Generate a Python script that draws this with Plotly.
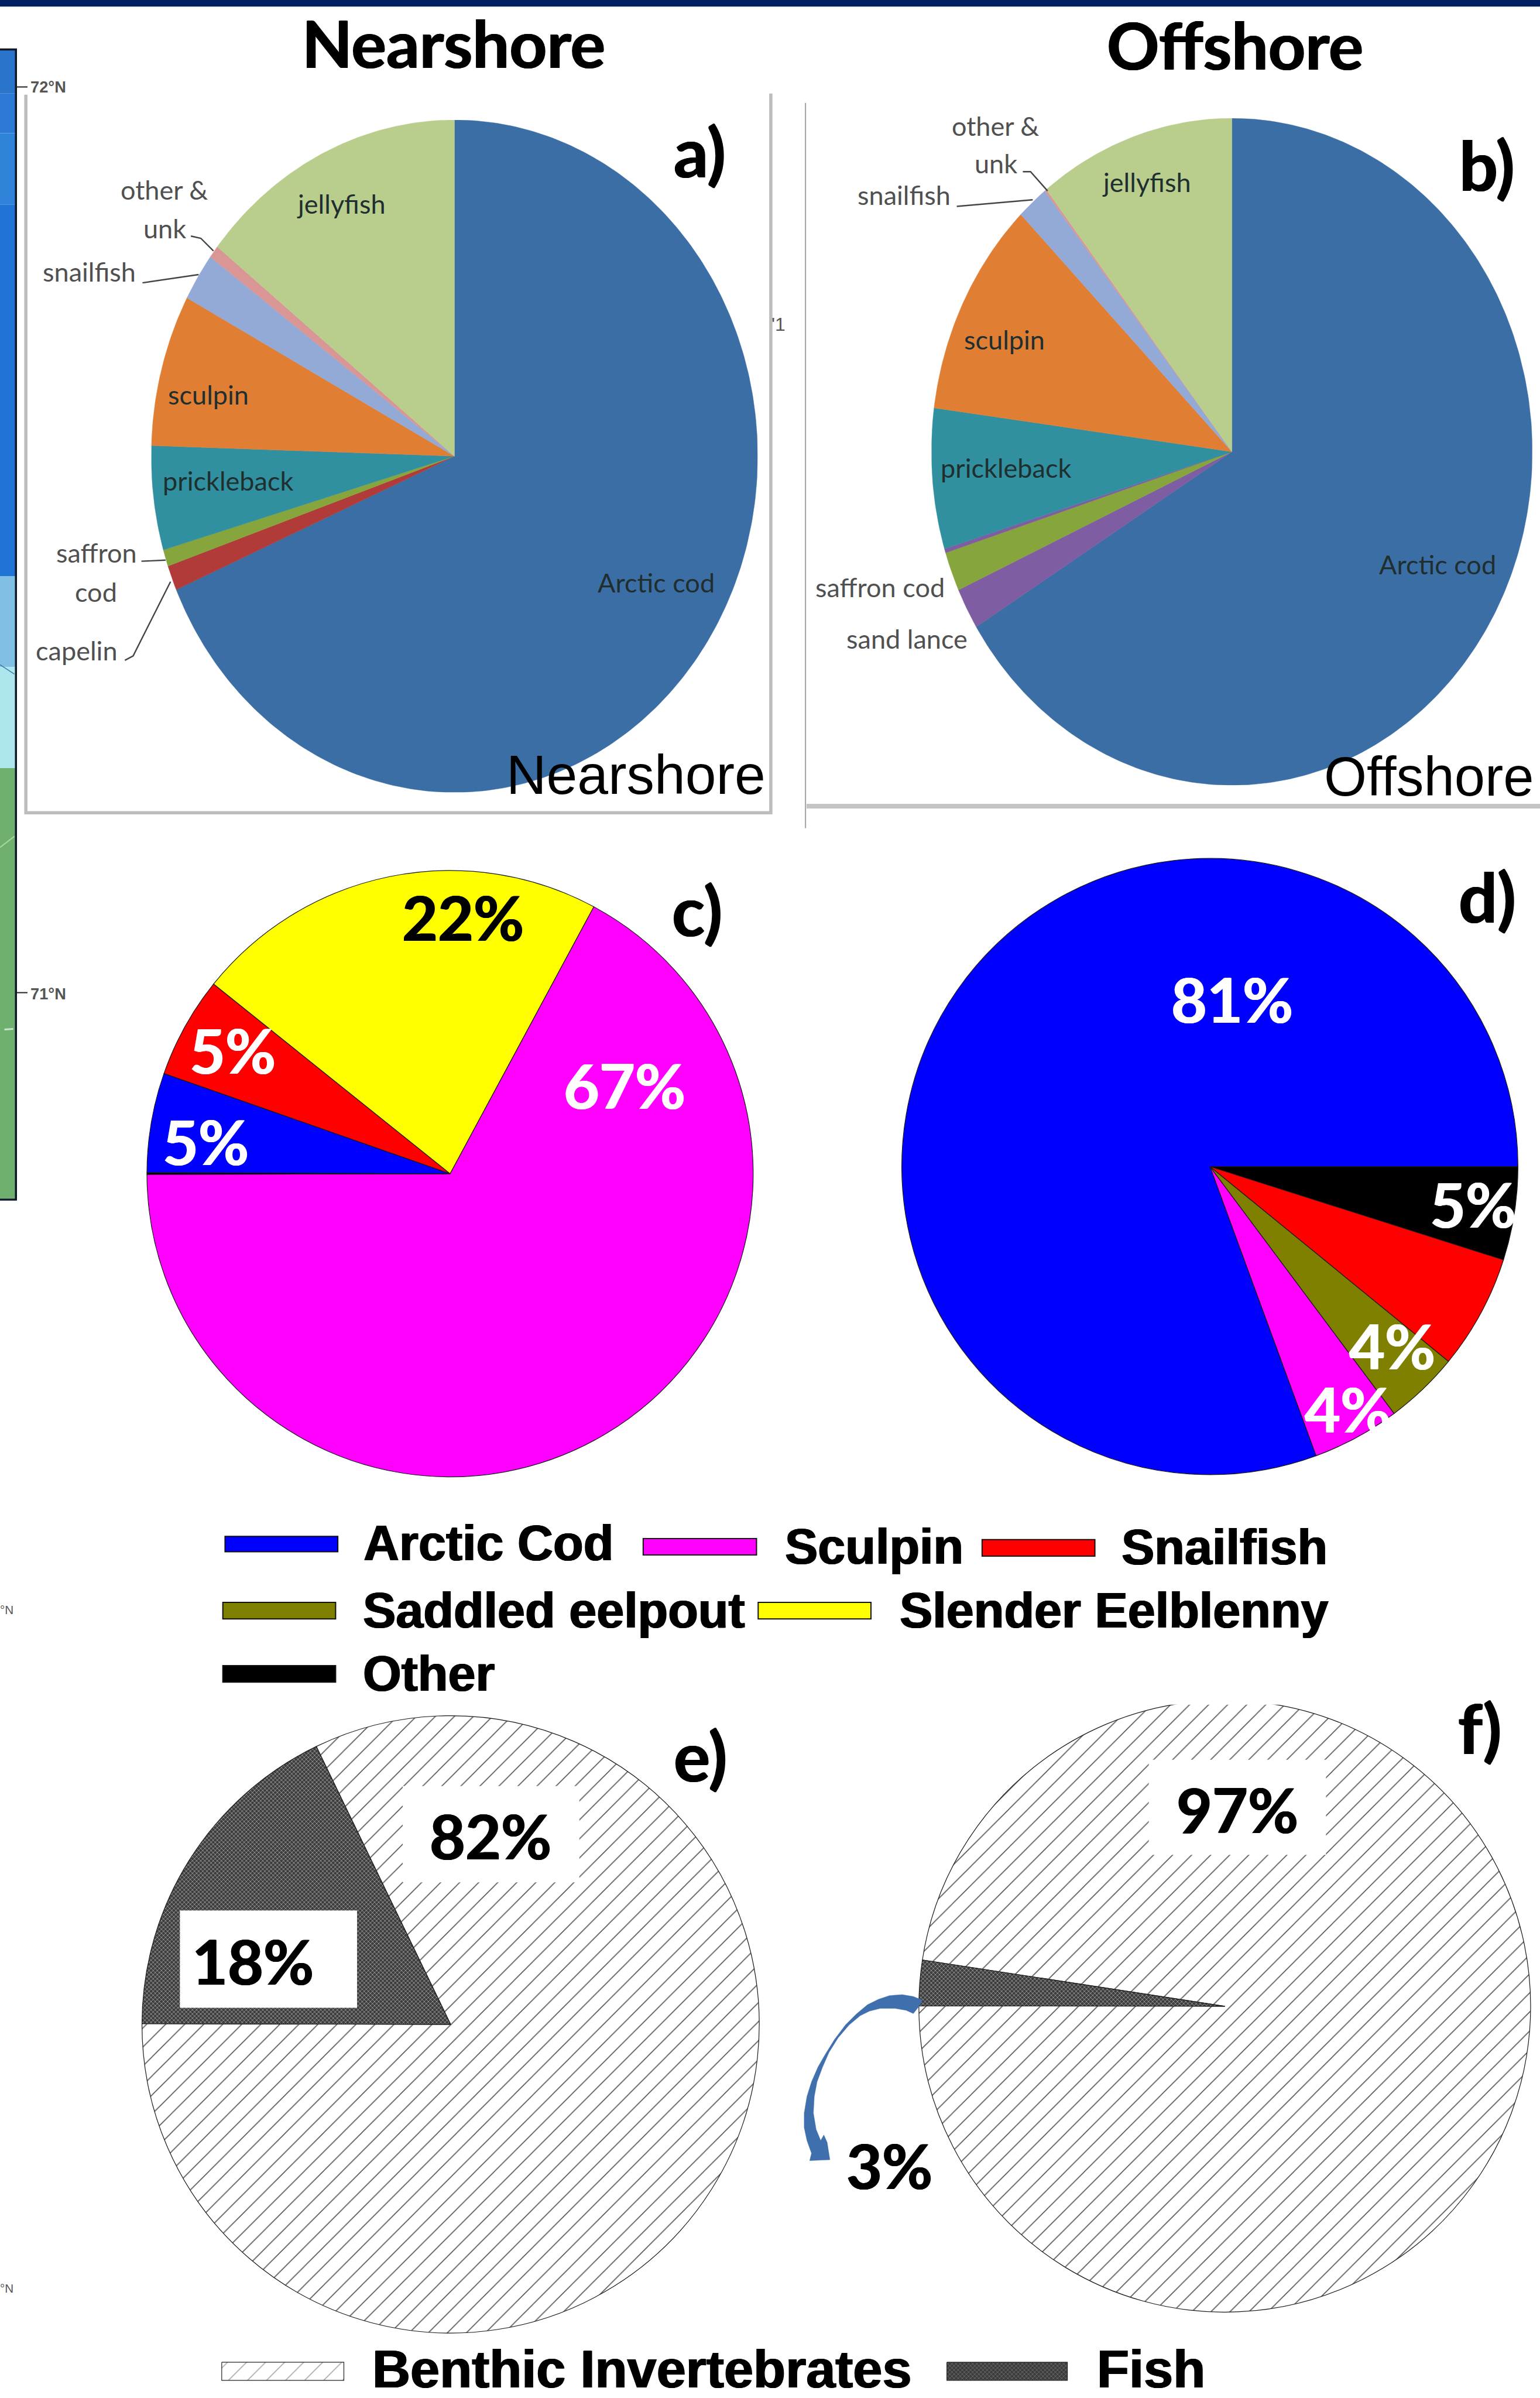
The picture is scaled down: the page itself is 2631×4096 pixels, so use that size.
import math
import plotly.graph_objects as go

W, H = 2799, 4358
K = 0.939

# ---------- data ----------
a_labels = ["Arctic cod", "capelin", "saffron cod", "prickleback", "sculpin", "snailfish", "other & unk", "jellyfish"]
a_values = [68.5, 1.2, 0.8, 5.0, 7.3, 2.3, 0.6, 14.3]
b_labels = ["Arctic cod", "sand lance", "saffron cod", "unknown", "prickleback", "sculpin", "snailfish", "other & unk", "jellyfish"]
b_values = [66.2, 2.0, 1.9, 0.2, 6.8, 10.5, 1.7, 0.1, 10.6]
c_labels = ["Sculpin", "Other", "Arctic Cod", "Snailfish", "Slender Eelblenny"]
c_values = [67.1, 0.1, 5.3, 5.4, 22.1]
d_labels = ["Other", "Snailfish", "Saddled eelpout", "Sculpin", "Arctic Cod"]
d_values = [4.9, 6.0, 3.9, 4.6, 80.6]
e_labels = ["Benthic Invertebrates", "Fish"]
e_values = [82.2, 17.8]
f_labels = ["Benthic Invertebrates", "Fish"]
f_values = [97.6, 2.4]

# ---------- style ----------
CAT = {"Arctic cod": "#3c6ea6", "capelin": "#b03b38", "saffron cod": "#86a53c", "unknown": "#7e5da2",
       "sand lance": "#7e5da2", "prickleback": "#31909f", "sculpin": "#e07f34", "snailfish": "#93a9d6",
       "other & unk": "#d99694", "jellyfish": "#b9cd8d"}
SP = {"Arctic Cod": "#0000ff", "Sculpin": "#ff00ff", "Snailfish": "#ff0000", "Saddled eelpout": "#7f7f00",
      "Slender Eelblenny": "#ffff00", "Other": "#000000"}
FISH_BG, FISH_FG = "#3c3c3c", "#a8a8a8"
HATCH_SIZE = 23


def px(x):
    return x / W


def py(y):
    return 1 - y / H


fig = go.Figure()
shapes = []
annotations = []


def rect(x0, y0, x1, y1, fill, line=None, lw=0):
    shapes.append(dict(type="rect", xref="paper", yref="paper", x0=px(x0), x1=px(x1), y0=py(y0), y1=py(y1),
                       fillcolor=fill, line=dict(color=line or fill, width=lw), layer="above"))


def seg(pts, color, w):
    path = "M" + " L".join(f"{px(x):.5f},{py(y):.5f}" for x, y in pts)
    shapes.append(dict(type="path", path=path, xref="paper", yref="paper", line=dict(color=color, width=w), layer="above"))


def text(s, x, y, size, color="#000", family="Lato", bold=False, anchor="center", heavy=0):
    font = dict(family=family, size=size * K, color=color)
    if heavy:
        font["shadow"] = f"{heavy}px 0 0 {color}, -{heavy}px 0 0 {color}"
    annotations.append(dict(text=f"<b>{s}</b>" if bold else s, x=px(x), y=py(y), xref="paper", yref="paper",
                            showarrow=False, xanchor=anchor, yanchor="middle", font=font))


def ellipse_pie(index, labels, values, cx, cy, rx, ry):
    ax = "" if index == 1 else str(index)
    fig.update_layout({
        f"xaxis{ax}": dict(domain=[px(cx - rx), px(cx + rx)], range=[-1, 1], visible=False, fixedrange=True,
                           anchor=f"y{ax}"),
        f"yaxis{ax}": dict(domain=[py(cy + ry), py(cy - ry)], range=[-1, 1], visible=False, fixedrange=True,
                           anchor=f"x{ax}"),
    })
    total = sum(values)
    start = 0.0
    for lab, v in zip(labels, values):
        n = max(3, int(v * 4))
        angs = [(start + v * i / n) / total * 2 * math.pi for i in range(n + 1)]
        xs = [0] + [math.sin(t) for t in angs] + [0]
        ys = [0] + [math.cos(t) for t in angs] + [0]
        fig.add_trace(go.Scatter(x=xs, y=ys, mode="lines", fill="toself", fillcolor=CAT[lab],
                                 line=dict(color=CAT[lab], width=0.5), name=lab, showlegend=False,
                                 xaxis=f"x{ax}", yaxis=f"y{ax}", hoverinfo="name"))
        start += v


def circle_pie(labels, values, cx, cy, r, rotation, colors, pattern=None):
    fig.add_trace(go.Pie(labels=labels, values=values, sort=False, direction="clockwise", rotation=rotation,
                         textinfo="none", showlegend=False,
                         domain=dict(x=[px(cx - r), px(cx + r)], y=[py(cy + r), py(cy - r)]),
                         marker=dict(colors=colors, line=dict(color="#1a1a1a", width=1.2), pattern=pattern)))


HATCH = dict(shape=["/", "x"], bgcolor=["#ffffff", FISH_BG], fgcolor=["#555555", FISH_FG],
             size=[HATCH_SIZE, 5], solidity=[0.07, 0.3], fillmode="replace")

ellipse_pie(1, a_labels, a_values, 826, 829, 551, 611)
ellipse_pie(2, b_labels, b_values, 2239, 821, 546, 606)
circle_pie(c_labels, c_values, 818, 2133, 551, 28.3, [SP[k] for k in c_labels])
circle_pie(d_labels, d_values, 2199, 2120, 560, 90, [SP[k] for k in d_labels])
circle_pie(e_labels, e_values, 819, 3679, 561, -25.8, ["#ffffff", FISH_BG], HATCH)
circle_pie(f_labels, f_values, 2226, 3646, 556, -81.3, ["#ffffff", FISH_BG], HATCH)

# ---------- page furniture ----------
rect(0, 0, W, 12, "#002060")
# map fragment on the left edge
for y0, y1, col in [(90, 170, "#2a74cc"), (170, 242, "#2c7ad6"), (242, 372, "#2f84da"), (372, 1047, "#2273d6"),
                    (1047, 1212, "#7fc0e4"), (1212, 1396, "#aee6ee"), (1396, 2178, "#6fb06f")]:
    rect(0, y0, 28, y1, col)
seg([(0, 1540), (26, 1520)], "#a8d8a8", 2)
seg([(8, 1871), (24, 1870)], "#c8e8c8", 3)
seg([(0, 1208), (26, 1225)], "#3f78a8", 1.5)
seg([(0, 90), (29, 90), (29, 2180), (0, 2180)], "#101828", 3.5)
seg([(30, 158), (50, 158)], "#222", 2)
seg([(30, 1804), (50, 1804)], "#222", 2)
text("72°N", 88, 158, 29, "#555", "Liberation Sans", True)
text("71°N", 88, 1806, 29, "#555", "Liberation Sans", True)
text("'1", 1415, 589, 34, "#555", "Liberation Sans")
text("°N", 12, 2925, 22, "#555", "Liberation Sans")
text("°N", 12, 4158, 22, "#555", "Liberation Sans")

# chart frames copied from the panels
seg([(47, 172), (47, 1477), (1401, 1477), (1401, 170)], "#bdbdbd", 5.5)
seg([(1464, 187), (1464, 1505)], "#a8a8a8", 2.2)
seg([(1466, 1465), (W, 1465)], "#c4c4c4", 8)

# leaders
GREY = "#454545"
for pts in [[(347, 429), (365, 433), (388, 456)], [(259, 514), (361, 499)], [(257, 1020), (301, 1018)],
            [(227, 1200), (242, 1192), (310, 1057)], [(1859, 312), (1873, 312), (1904, 347)],
            [(1739, 375), (1877, 363)]]:
    seg(pts, GREY, 2.4)

# white boxes behind the percent labels, clip at top of f)
rect(732, 3246, 1053, 3421, "#ffffff")
rect(327, 3472, 649, 3649, "#ffffff")
rect(2088, 3198, 2410, 3371, "#ffffff")
rect(1900, 3070, 2560, 3098, "#ffffff")

# curved arrow
ARROW = [(830, 405), (780, 385), (720, 375), (650, 380), (590, 400), (530, 430), (470, 480), (410, 540), (350, 620),
         (300, 700), (260, 770), (225, 850), (200, 930), (185, 1020), (185, 1100), (200, 1170), (225, 1240),
         (215, 1280), (325, 1275), (310, 1180), (292, 1140), (275, 1170), (250, 1110), (235, 1020), (240, 930),
         (255, 850), (285, 770), (320, 690), (370, 610), (430, 540), (490, 490), (540, 465), (600, 450), (680, 450),
         (740, 460), (780, 478), (810, 440)]
path = "M" + " L".join(f"{px(1400 + x / 3):.5f},{py(3500 + y / 3):.5f}" for x, y in ARROW) + " Z"
shapes.append(dict(type="path", path=path, xref="paper", yref="paper", fillcolor="#3f6fad",
                   line=dict(color="#3f6fad", width=0.5), layer="above"))

# ---------- legends ----------
SW = [("Arctic Cod", 409, 2792, 614, 2820, 659, 2804), ("Sculpin", 1169, 2796, 1375, 2826, 1424, 2810),
      ("Snailfish", 1785, 2798, 1990, 2828, 2036, 2812), ("Saddled eelpout", 405, 2912, 610, 2942, 657, 2926),
      ("Slender Eelblenny", 1378, 2912, 1583, 2942, 1633, 2926), ("Other", 405, 3027, 610, 3057, 657, 3041)]
for name, x0, y0, x1, y1, tx, ty in SW:
    rect(x0, y0, x1, y1, SP[name], "#111111", 2)
    text(name, tx, ty, 90, "#000", "Liberation Sans", True, "left", heavy=1)

# hatched legend swatches use the same fill patterns as the pies
fig.update_layout(xaxis3=dict(domain=[0, 1], range=[0, W], visible=False, fixedrange=True, anchor="y3"),
                  yaxis3=dict(domain=[0, 1], range=[H, 0], visible=False, fixedrange=True, anchor="x3"))
for (x0, x1), patt, lab in [((403, 625), dict(shape="/", bgcolor="#ffffff", fgcolor="#555555", size=HATCH_SIZE, solidity=0.07), "Benthic Invertebrates"),
                            ((1721, 1940), dict(shape="x", bgcolor=FISH_BG, fgcolor=FISH_FG, size=5, solidity=0.3), "Fish")]:
    fig.add_trace(go.Scatter(x=[x0, x1, x1, x0, x0], y=[4293, 4293, 4326, 4326, 4293], mode="lines", fill="toself",
                             fillcolor=patt["bgcolor"], fillpattern=patt, line=dict(color="#222", width=1.2),
                             xaxis="x3", yaxis="y3", showlegend=False, name=lab, hoverinfo="name"))
text("Benthic Invertebrates", 675, 4305, 96, "#000", "Liberation Sans", True, "left", heavy=1)
text("Fish", 1992, 4305, 96, "#000", "Liberation Sans", True, "left", heavy=1)

# ---------- titles and labels ----------
text("Nearshore", 824, 78, 119, "#000", "Lato", True, heavy=1)
text("Offshore", 2245, 81, 118, "#000", "Lato", True, heavy=1)
for s, x, y in [("a)", 1272, 275), ("b)", 2703, 299), ("c)", 1267, 1653), ("d)", 2703, 1629), ("e)", 1273, 3190), ("f)", 2689, 3140)]:
    text(s, x, y, 124, "#000", "Lato", True, heavy=1)

for s, x, y in [("other &", 298, 345), ("unk", 299, 415), ("snailfish", 162, 494), ("saffron", 176, 1004), ("cod", 175, 1076),
                ("capelin", 139, 1182), ("other &", 1809, 229), ("unk", 1810, 297), ("snailfish", 1643, 354),
                ("saffron cod", 1599, 1067), ("sand lance", 1648, 1161)]:
    text(s, x, y, 48, "#505050")
for s, x, y in [("jellyfish", 620, 370), ("sculpin", 379, 717), ("prickleback", 414, 874), ("Arctic cod", 1193, 1059),
                ("jellyfish", 2084, 331), ("sculpin", 1826, 617), ("prickleback", 1828, 850), ("Arctic cod", 2613, 1026)]:
    text(s, x, y, 48, "#1f2f30")
text("Nearshore", 1156, 1408, 101, "#000", "Liberation Sans")
text("Offshore", 2597, 1411, 100, "#000", "Liberation Sans")

for s, x, y, col in [("22%", 841, 1666, "#000"), ("67%", 1135, 1972, "#fff"), ("5%", 423, 1908, "#fff"), ("5%", 374, 2074, "#fff"),
                     ("81%", 2239, 1815, "#fff"), ("5%", 2677, 2187, "#fff"), ("4%", 2530, 2445, "#fff"), ("4%", 2450, 2560, "#fff"),
                     ("82%", 892, 3336, "#000"), ("18%", 460, 3563, "#000"), ("97%", 2249, 3288, "#000"), ("3%", 1617, 3935, "#000")]:
    text(s, x, y, 112, col, "Lato", True, heavy=1)

fig.update_layout(width=2631, height=4096, autosize=False, margin=dict(l=0, r=0, t=0, b=0), paper_bgcolor="#fff",
                  plot_bgcolor="rgba(0,0,0,0)", shapes=shapes, annotations=annotations, showlegend=False)
fig.write_html("out.html", config={"displayModeBar": False},
               post_script="document.body.style.margin='0';document.body.style.overflow='hidden';")
